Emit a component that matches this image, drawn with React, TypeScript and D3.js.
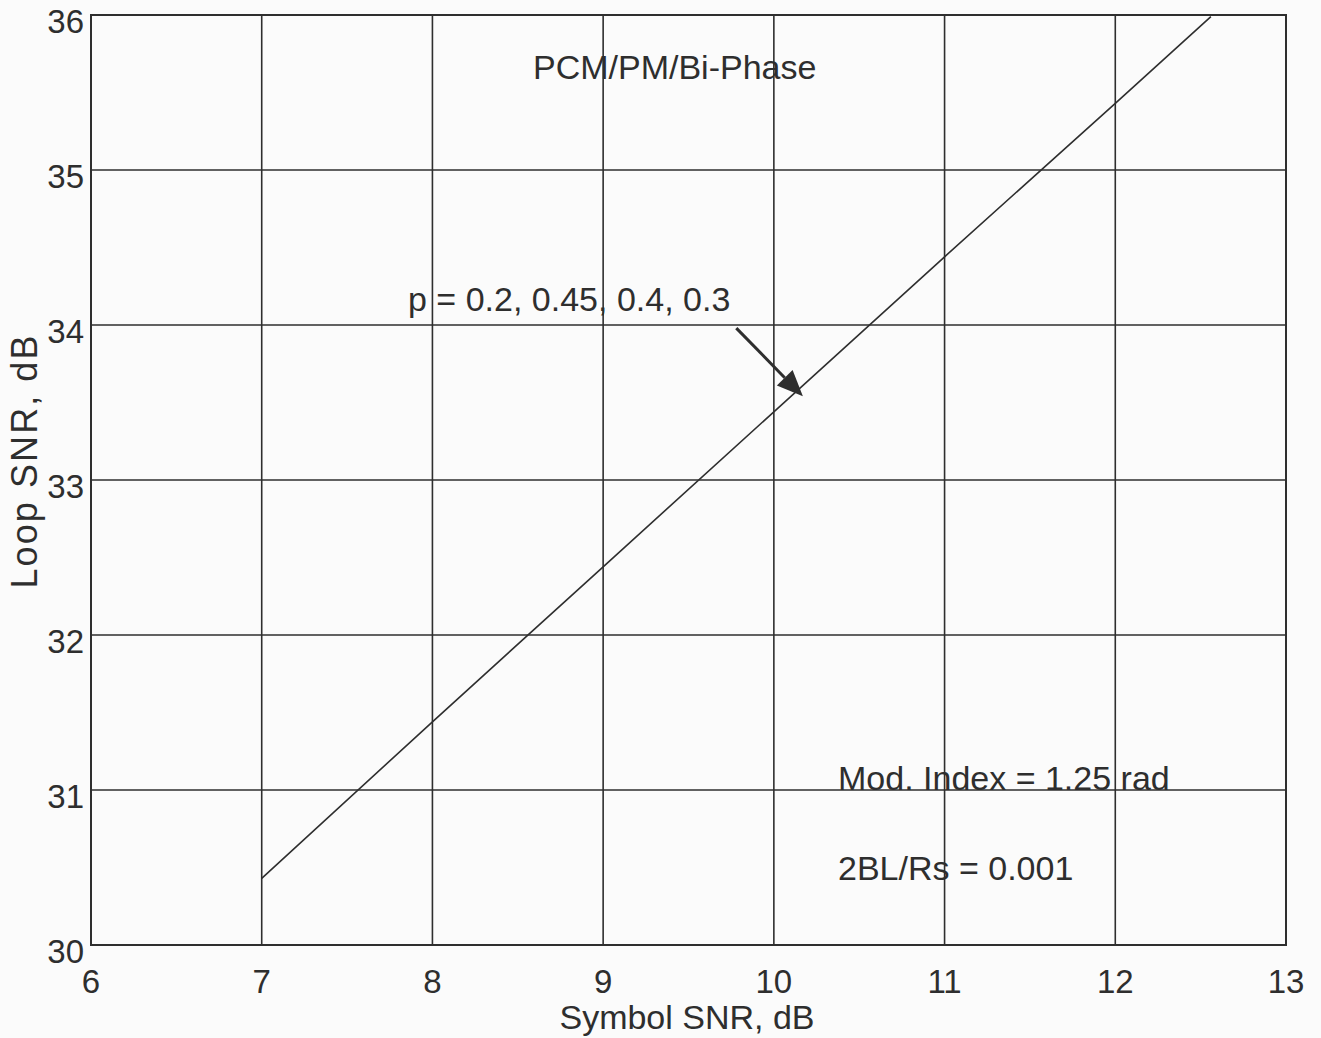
import React from "react";
import * as d3 from "d3";

const xTicks = [6, 7, 8, 9, 10, 11, 12, 13];
const yTicks = [30, 31, 32, 33, 34, 35, 36];
const curveX = [7, 8, 9, 10, 11, 12, 12.56];
const curveY = [30.43, 31.44, 32.44, 33.44, 34.44, 35.43, 35.99];
const xLabel = "Symbol SNR, dB";
const yLabel = "Loop SNR, dB";
const title = "PCM/PM/Bi-Phase";
const pLabel = "p = 0.2, 0.45, 0.4, 0.3";
const modLabel = "Mod. Index = 1.25 rad";
const bwLabel = "2BL/Rs = 0.001";

const W = 1321;
const H = 1038;
const m = { left: 91, right: 1286, top: 15, bottom: 945 };
const ink = "#2e2e2e";
const font = "'Liberation Sans', Arial, Helvetica, sans-serif";

export default function App() {
  const x = d3.scaleLinear().domain([6, 13]).range([m.left, m.right]);
  const y = d3.scaleLinear().domain([30, 36]).range([m.bottom, m.top]);
  const pts: [number, number][] = curveX.map((v, i) => [v, curveY[i]]);
  const line = d3
    .line<[number, number]>()
    .x((d) => x(d[0]))
    .y((d) => y(d[1]));

  // arrow from label to curve
  const a0 = [x(9.78), y(33.98)];
  const a1 = [x(10.17), y(33.54)];
  const ang = Math.atan2(a1[1] - a0[1], a1[0] - a0[0]);
  const hl = 26;
  const hw = 11;
  const bx = a1[0] - hl * Math.cos(ang);
  const by = a1[1] - hl * Math.sin(ang);
  const head = [
    [a1[0], a1[1]],
    [bx + hw * Math.sin(ang), by - hw * Math.cos(ang)],
    [bx - hw * Math.sin(ang), by + hw * Math.cos(ang)],
  ];

  return (
    <svg
      width={W}
      height={H}
      style={{ position: "absolute", left: 0, top: 0, background: "#fbfbfb" }}
      fontFamily={font}
    >
      <rect x={0} y={0} width={W} height={H} fill="#fbfbfb" />
      {xTicks.map((t) => (
        <line key={"gx" + t} x1={x(t)} x2={x(t)} y1={m.top} y2={m.bottom} stroke={ink} strokeWidth={1.6} />
      ))}
      {yTicks.map((t) => (
        <line key={"gy" + t} x1={m.left} x2={m.right} y1={y(t)} y2={y(t)} stroke={ink} strokeWidth={1.6} />
      ))}
      <rect x={m.left} y={m.top} width={m.right - m.left} height={m.bottom - m.top} fill="none" stroke={ink} strokeWidth={2} />
      {xTicks.map((t) => (
        <text key={"tx" + t} x={x(t)} y={m.bottom + 48} textAnchor="middle" fontSize={33} fill={ink}>
          {t}
        </text>
      ))}
      {yTicks.map((t) => (
        <text key={"ty" + t} x={m.left - 7} y={y(t) + 18} textAnchor="end" fontSize={33} fill={ink}>
          {t}
        </text>
      ))}
      <text x={687} y={1029} textAnchor="middle" fontSize={34} fill={ink}>
        {xLabel}
      </text>
      <text
        transform="translate(37,462) rotate(-90)"
        textAnchor="middle"
        fontSize={36}
        textLength={253}
        lengthAdjust="spacing"
        fill={ink}
      >
        {yLabel}
      </text>
      <path d={line(pts) || ""} fill="none" stroke={ink} strokeWidth={1.6} />
      <text x={533} y={79} fontSize={34} fill={ink}>
        {title}
      </text>
      <text x={408} y={311} fontSize={34} fill={ink}>
        {pLabel}
      </text>
      <line x1={a0[0]} y1={a0[1]} x2={bx} y2={by} stroke={ink} strokeWidth={3} />
      <polygon points={head.map((p) => p.join(",")).join(" ")} fill={ink} />
      <text x={838} y={790} fontSize={34} fill={ink}>
        {modLabel}
      </text>
      <text x={838} y={880} fontSize={34} fill={ink}>
        {bwLabel}
      </text>
    </svg>
  );
}
